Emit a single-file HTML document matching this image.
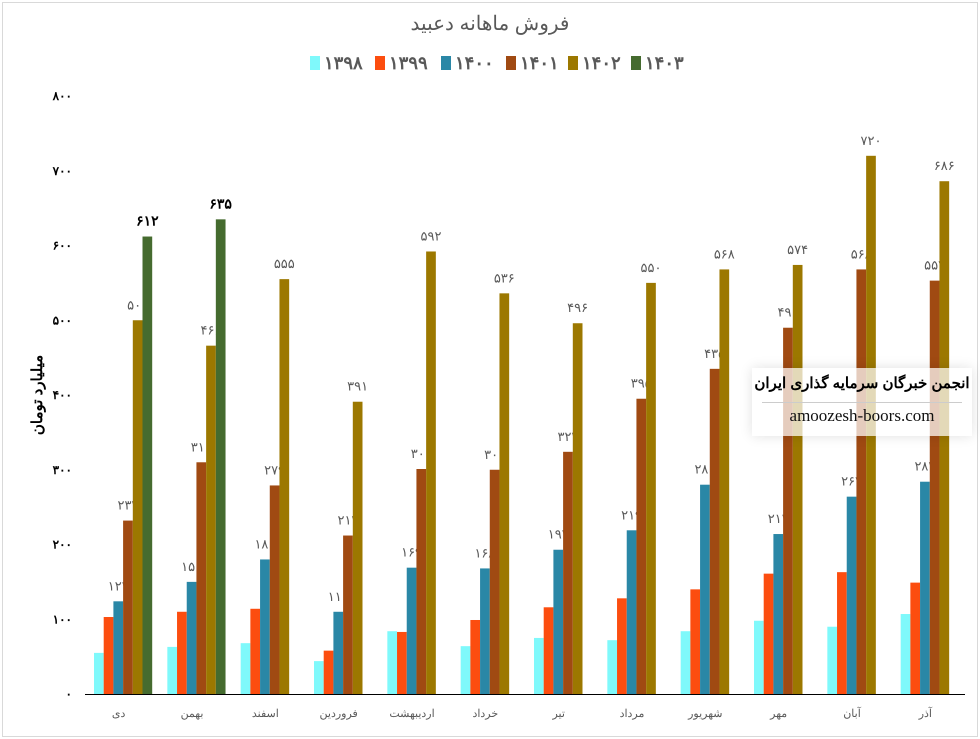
<!DOCTYPE html>
<html><head><meta charset="utf-8">
<style>
body{margin:0;background:#fff;}
#wrap{position:relative;width:980px;height:739px;overflow:hidden;font-family:"Liberation Sans","Noto Sans CJK SC",sans-serif;}
#frame{position:absolute;left:2px;top:2px;width:974px;height:733px;border:1px solid #d9d9d9;}
#wm{position:absolute;left:752px;top:368px;width:220px;height:68px;background:rgba(255,255,255,0.72);box-shadow:0 0 12px rgba(0,0,0,0.12);}
</style></head>
<body>
<div id="wrap">
<div id="frame"></div>
<svg id="chart" width="980" height="739" style="position:absolute;left:0;top:0"></svg>
<div id="wm">
  <div style="position:absolute;left:0;right:0;top:6px;text-align:center;font-weight:bold;font-size:15px;color:#000;font-family:'Liberation Sans','Noto Sans CJK SC',sans-serif;direction:rtl">انجمن خبرگان سرمایه گذاری ایران</div>
  <div style="position:absolute;left:10px;right:10px;top:34px;border-top:1px solid #ccc"></div>
  <div style="position:absolute;left:0;right:0;top:38px;text-align:center;font-size:17px;color:#111;font-family:'Liberation Serif',serif">amoozesh-boors.com</div>
</div>
</div>
<script>
const categories=["دی","بهمن","اسفند","فروردین","اردیبهشت","خرداد","تیر","مرداد","شهریور","مهر","آبان","آذر"];
const seriesNames=["۱۳۹۸","۱۳۹۹","۱۴۰۰","۱۴۰۱","۱۴۰۲","۱۴۰۳"];
const s1398=[55,63,68,44,84,64,75,72,84,98,90,107];
const s1399=[103,110,114,58,83,99,116,128,140,161,163,149];
const s1400=[124,150,180,110,169,168,193,219,280,214,264,284];
const s1401=[232,310,279,212,301,300,324,395,435,490,568,553];
const s1402=[500,466,555,391,592,536,496,550,568,574,720,686];
const s1403=[612,635,null,null,null,null,null,null,null,null,null,null];
const yTicks=[0,100,200,300,400,500,600,700,800];
const colors=["#7ff9fb","#fc4d0f","#2a87a6","#a04a12","#9c7800","#456b2f"];
const showLabel=[false,false,true,true,true,true];
const series=[s1398,s1399,s1400,s1401,s1402,s1403];

const svg=document.getElementById('chart');
const NS="http://www.w3.org/2000/svg";
const x0=85,x1=965,yB=694,yT=96,yMax=800;
const groupW=(x1-x0)/categories.length;
const barW=9.7;
function yPos(v){return yB-(v/yMax)*(yB-yT);}
function gx(i){return x0+i*groupW+9;}
function toFa(n){return String(n).replace(/\d/g,d=>"۰۱۲۳۴۵۶۷۸۹"[d]);}
function mk(tag,attrs,parent){const e=document.createElementNS(NS,tag);for(const k in attrs)e.setAttribute(k,attrs[k]);(parent||svg).appendChild(e);return e;}

// title
let t=mk('text',{x:490,y:30,'text-anchor':'middle','font-size':20,fill:'#595959'});
t.textContent="فروش ماهانه دعبید";



// legend
const legX=[310,375,441,506,568,631];
seriesNames.forEach((n,i)=>{
  const g=mk('g',{});
  
  
  mk('rect',{x:legX[i],y:56,width:10,height:14,fill:colors[i]},g);
  const tt=mk('text',{x:legX[i]+14,y:69,'font-size':18,'font-weight':'bold',fill:'#595959'},g);
  tt.textContent=n;
});

// y ticks
yTicks.forEach(v=>{
  const tt=mk('text',{x:72,y:yPos(v)+4,'text-anchor':'end','font-size':12,'font-weight':'bold',fill:'#000'});
  tt.textContent=toFa(v);
  
  
});
// y title
let yt=mk('text',{x:0,y:0,'text-anchor':'middle','font-size':15,'font-weight':'bold',fill:'#000',transform:'translate(42,395) rotate(-90)'});
yt.textContent="میلیارد تومان";



// bars
series.forEach((s,si)=>{
  s.forEach((v,ci)=>{
    if(v==null)return;
    const bx=gx(ci)+si*barW;
    const r=mk('rect',{x:bx,y:yPos(v),width:barW,height:yB-yPos(v),fill:colors[si]});
    
    
  });
  if(showLabel[si]){
    s.forEach((v,ci)=>{
      if(v==null)return;
      const bx=gx(ci)+si*barW+barW/2;
      const lt=mk('text',{x:bx,y:yPos(v)-11,'text-anchor':'middle','font-size':si==5?14:13,'font-weight':si==5?'bold':'normal',fill:si==5?'#000':'#595959'});
      lt.textContent=toFa(v);
      
      
    });
  }
});
// x axis
let ax=mk('line',{x1:x0,y1:yB+0.5,x2:x1,y2:yB+0.5,stroke:'#000','stroke-width':1});


categories.forEach((c,i)=>{
  const tt=mk('text',{x:x0+i*groupW+groupW/2-3,y:717,'text-anchor':'middle','font-size':11,fill:'#595959'});
  tt.textContent=c;
  
  
});
</script>
</body></html>
